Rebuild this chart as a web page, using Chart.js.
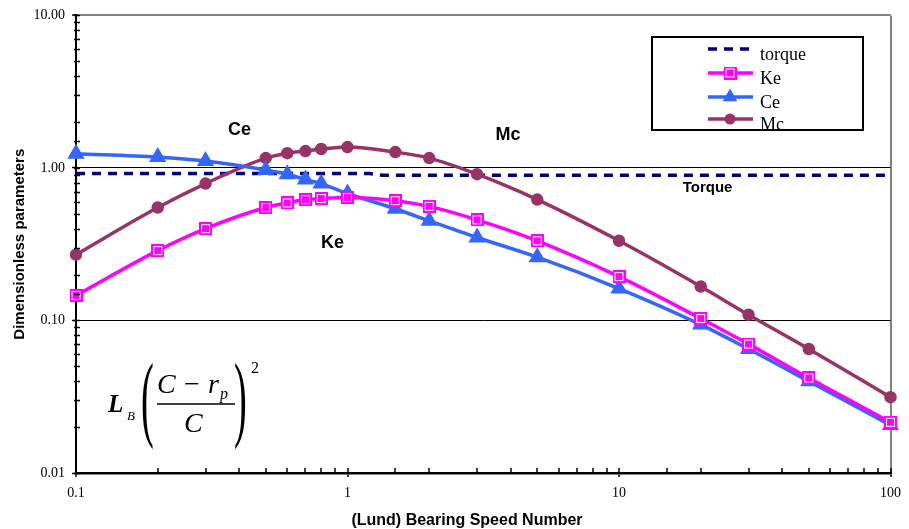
<!DOCTYPE html>
<html>
<head>
<meta charset="utf-8">
<script src="https://cdn.jsdelivr.net/npm/chart.js@4.4.1/dist/chart.umd.min.js"></script>
<style>
html, body { margin: 0; padding: 0; background: #fff; }
</style>
</head>
<body>
<canvas id="chart" width="909" height="529"></canvas>
<script>
// bearing speed numbers where the markers sit
var speeds = [0.1, 0.2, 0.3, 0.5, 0.6, 0.7, 0.8, 1, 1.5, 2, 3, 5, 10, 20, 30, 50, 100];
var keVals = [0.146, 0.287, 0.40, 0.55, 0.59, 0.62, 0.63, 0.64, 0.61, 0.56, 0.457, 0.333, 0.194, 0.103, 0.070, 0.042, 0.0215];
var ceVals = [1.24, 1.18, 1.11, 0.97, 0.91, 0.84, 0.79, 0.68, 0.54, 0.45, 0.35, 0.26, 0.162, 0.094, 0.065, 0.040, 0.0206];
var mcVals = [0.27, 0.55, 0.79, 1.16, 1.25, 1.29, 1.33, 1.37, 1.27, 1.16, 0.91, 0.62, 0.333, 0.167, 0.109, 0.065, 0.0314];
var torqueX = [0.1, 1.2, 1.35, 100];
var torqueVals = [0.918, 0.918, 0.895, 0.895];

var seriesNames = ['torque', 'Ke', 'Ce', 'Mc'];
var labelNotes = [
  { text: 'Ce', x: 0.40, y: 1.77, size: 18 },
  { text: 'Mc', x: 3.9, y: 1.64, size: 18 },
  { text: 'Ke', x: 0.88, y: 0.32, size: 18 },
  { text: 'Torque', x: 21.2, y: 0.74, size: 15 }
];

function isDecade(v) {
  var l = Math.log10(v);
  return Math.abs(l - Math.round(l)) < 1e-6;
}

function pairs(xs, ys) {
  return xs.map(function(x, i) { return { x: x, y: ys[i] }; });
}

// Excel style square marker: magenta with a thin white inner outline
function squareMarker() {
  var c = document.createElement('canvas');
  c.width = 13; c.height = 13;
  var g = c.getContext('2d');
  g.fillStyle = '#FF00FF';
  g.fillRect(0, 0, 13, 13);
  g.strokeStyle = '#fff';
  g.lineWidth = 1;
  g.strokeRect(2.5, 2.5, 8, 8);
  g.fillStyle = '#FF00FF';
  g.fillRect(3, 4, 7, 6);
  return c;
}
var keMarker = squareMarker();

var innerTicks = {
  id: 'innerTicks',
  afterDraw: function(chart) {
    var ctx = chart.ctx, xs = chart.scales.x, ys = chart.scales.y;
    var a = chart.chartArea;
    ctx.save();
    ctx.strokeStyle = '#000';
    ctx.lineWidth = 1.5;
    xs.ticks.forEach(function(t) {
      var px = Math.round(xs.getPixelForValue(t.value));
      ctx.beginPath(); ctx.moveTo(px, a.bottom); ctx.lineTo(px, a.bottom - 5); ctx.stroke();
    });
    ys.ticks.forEach(function(t) {
      var py = Math.round(ys.getPixelForValue(t.value)) + 0.5;
      ctx.beginPath(); ctx.moveTo(a.left - 2, py); ctx.lineTo(a.left + 4, py); ctx.stroke();
    });
    ctx.restore();
  }
};

var notesAndLegend = {
  id: 'notesAndLegend',
  afterDraw: function(chart) {
    var ctx = chart.ctx, xs = chart.scales.x, ys = chart.scales.y;
    ctx.save();
    ctx.fillStyle = '#000';
    ctx.textAlign = 'center';
    ctx.textBaseline = 'middle';
    labelNotes.forEach(function(n) {
      ctx.font = 'bold ' + n.size + 'px "Liberation Sans", Arial, sans-serif';
      ctx.fillText(n.text, xs.getPixelForValue(n.x), ys.getPixelForValue(n.y));
    });

    // x axis title, a little left of the plot centre as in the original
    ctx.font = 'bold 16px "Liberation Sans", Arial, sans-serif';
    ctx.fillText('(Lund) Bearing Speed Number', 467, 521);

    // legend box
    ctx.strokeStyle = '#000';
    ctx.lineWidth = 2;
    ctx.strokeRect(652, 37, 211, 93);
    var rowsY = [49, 73, 97, 119];
    ctx.textAlign = 'left';
    ctx.textBaseline = 'alphabetic';
    ctx.font = '18px "Liberation Serif", "Times New Roman", serif';
    var order = [3, 0, 1, 2];
    order.forEach(function(di, row) {
      var ds = chart.data.datasets[di];
      var y = rowsY[row];
      ctx.save();
      ctx.strokeStyle = ds.borderColor;
      ctx.lineWidth = ds.borderWidth;
      ctx.setLineDash(ds.borderDash || []);
      ctx.beginPath(); ctx.moveTo(708, y); ctx.lineTo(753, y); ctx.stroke();
      ctx.restore();
      if (ds.pointRadius > 0) {
        ctx.save();
        ctx.fillStyle = ds.pointBackgroundColor;
        ctx.strokeStyle = ds.borderColor;
        Chart.helpers.drawPoint(ctx, {
          pointStyle: ds.pointStyle, radius: ds.pointRadius, rotation: 0, borderWidth: 1
        }, 730, y);
        ctx.restore();
      }
      ctx.fillStyle = '#000';
      ctx.fillText(seriesNames[row], 760, y + 11);
    });

    // formula L_B ((C - r_p)/C)^2
    var serif = '"Liberation Serif", "Times New Roman", serif';
    ctx.fillStyle = '#000';
    ctx.strokeStyle = '#000';
    ctx.textAlign = 'left';
    ctx.font = 'bold italic 25px ' + serif;
    ctx.fillText('L', 108, 412);
    ctx.font = 'italic 13px ' + serif;
    ctx.fillText('B', 127, 420);
    ctx.font = 'italic 28px ' + serif;
    ctx.fillText('C', 157, 393);
    ctx.font = '28px ' + serif;
    ctx.fillText('\u2212', 184, 393);
    ctx.font = 'italic 28px ' + serif;
    ctx.fillText('r', 208, 393);
    ctx.font = 'italic 16px ' + serif;
    ctx.fillText('p', 220, 399);
    ctx.font = 'italic 28px ' + serif;
    ctx.fillText('C', 184, 432);
    ctx.font = '16px ' + serif;
    ctx.fillText('2', 251, 373);
    ctx.lineWidth = 1.5;
    ctx.beginPath(); ctx.moveTo(157, 404); ctx.lineTo(235, 404); ctx.stroke();
    ctx.save();
    ctx.font = '96px ' + serif;
    ctx.scale(0.4, 1);
    ctx.fillText('(', 141 / 0.4, 429);
    ctx.fillText(')', 234 / 0.4, 429);
    ctx.restore();
    ctx.restore();
  }
};

new Chart(document.getElementById('chart'), {
  type: 'line',
  data: {
    datasets: [
      {
        label: 'Ke',
        data: pairs(speeds, keVals),
        borderColor: '#FF00FF',
        backgroundColor: '#FF00FF',
        borderWidth: 3.5,
        pointStyle: keMarker,
        pointRadius: 6,
        pointBackgroundColor: '#FF00FF',
        cubicInterpolationMode: 'monotone',
        clip: false
      },
      {
        label: 'Ce',
        data: pairs(speeds, ceVals),
        borderColor: '#3366FF',
        backgroundColor: '#3366FF',
        borderWidth: 3.5,
        pointStyle: 'triangle',
        pointRadius: 6.5,
        pointBackgroundColor: '#3366FF',
        pointBorderColor: '#3366FF',
        cubicInterpolationMode: 'monotone',
        clip: false
      },
      {
        label: 'Mc',
        data: pairs(speeds, mcVals),
        borderColor: '#993366',
        backgroundColor: '#993366',
        borderWidth: 3.5,
        pointStyle: 'circle',
        pointRadius: 4.5,
        pointBackgroundColor: '#993366',
        pointBorderColor: '#993366',
        cubicInterpolationMode: 'monotone',
        clip: false
      },
      {
        label: 'torque',
        data: pairs(torqueX, torqueVals),
        borderColor: '#000080',
        borderWidth: 3.5,
        borderDash: [9, 7],
        pointRadius: 0,
        tension: 0,
        clip: false
      }
    ]
  },
  options: {
    responsive: false,
    animation: false,
    devicePixelRatio: 1,
    layout: { padding: { top: 15, right: 14, left: 0, bottom: 0 } },
    plugins: {
      legend: { display: false },
      tooltip: { enabled: false }
    },
    scales: {
      x: {
        type: 'logarithmic',
        min: 0.1,
        max: 100,
        afterFit: function(s) { s.height = 56; },
        border: { color: '#000', width: 2.5 },
        grid: {
          drawOnChartArea: true,
          color: function(c) { return c.tick && c.tick.value === 100 ? '#808080' : 'rgba(0,0,0,0)'; },
          lineWidth: 2,
          tickLength: 4,
          tickColor: function(c) { return c.tick && isDecade(c.tick.value) ? '#000' : 'rgba(0,0,0,0)'; },
          tickWidth: 1.5
        },
        ticks: {
          autoSkip: false,
          maxRotation: 0,
          padding: 8,
          color: '#000',
          font: { family: '"Liberation Serif", "Times New Roman", serif', size: 14 },
          callback: function(v) { return isDecade(v) ? String(+v.toPrecision(1)) : ''; }
        },
        title: { display: false }
      },
      y: {
        type: 'logarithmic',
        min: 0.01,
        max: 10,
        afterFit: function(s) { s.width = 76; },
        border: { color: '#000', width: 2 },
        grid: {
          color: function(c) {
            if (!c.tick) return 'rgba(0,0,0,0)';
            var v = c.tick.value;
            if (Math.abs(v - 10) < 1e-9) return '#808080';
            return isDecade(v) ? '#000' : 'rgba(0,0,0,0)';
          },
          lineWidth: function(c) { return c.tick && Math.abs(c.tick.value - 10) < 1e-9 ? 2 : 1; },
          tickLength: 4,
          tickColor: function(c) { return c.tick && isDecade(c.tick.value) ? '#000' : 'rgba(0,0,0,0)'; },
          tickWidth: 1.5
        },
        ticks: {
          autoSkip: false,
          padding: 7,
          color: '#000',
          font: { family: '"Liberation Serif", "Times New Roman", serif', size: 14 },
          callback: function(v) { return isDecade(v) ? v.toFixed(2) : ''; }
        },
        title: {
          display: true,
          text: 'Dimensionless parameters',
          color: '#000',
          font: { family: '"Liberation Sans", Arial, sans-serif', size: 15, weight: 'bold', lineHeight: 1.2 },
          padding: { top: 11, bottom: 0 }
        }
      }
    }
  },
  plugins: [innerTicks, notesAndLegend]
});
</script>
</body>
</html>
